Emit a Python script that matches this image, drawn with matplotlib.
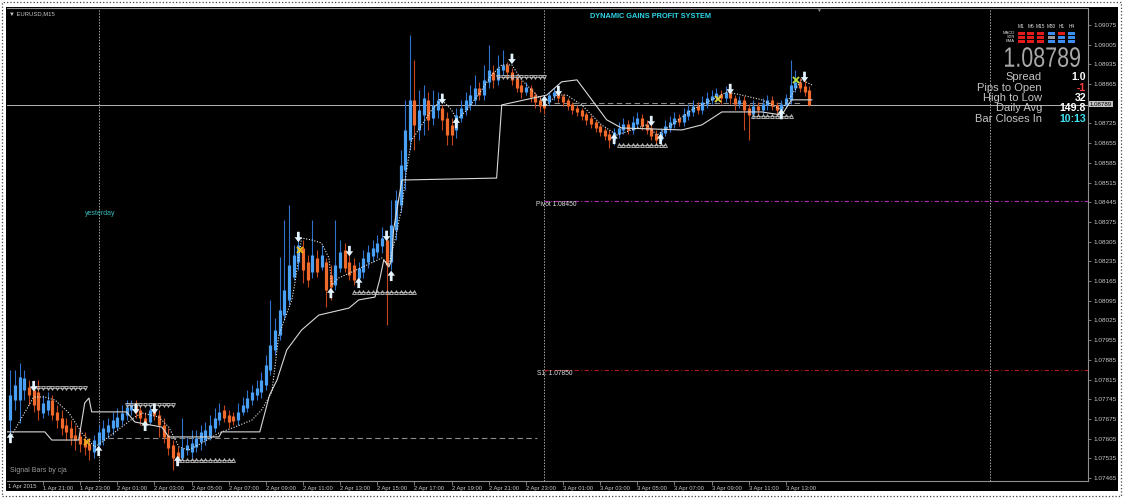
import numpy as np
import matplotlib
matplotlib.use("Agg")
import matplotlib.pyplot as plt
from matplotlib.patches import Rectangle, PathPatch
from matplotlib.textpath import TextPath
from matplotlib.font_manager import FontProperties
from matplotlib.transforms import Affine2D

plt.rcParams['font.family'] = ['Liberation Sans', 'DejaVu Sans']

# prices are kept in pips above BASE
BASE = 1.07

bar_open = [
    67.1, 74.2, 74.2, 77.8, 78.8, 77.8, 77.1, 69.6, 70.7, 74.2,
    70.0, 67.8, 65.4, 64.3, 61.8, 61.4, 60.0, 58.6, 55.8, 58.2,
    60.0, 62.9, 64.3, 64.6, 67.1, 68.9, 70.7, 72.5, 70.7, 67.8,
    66.4, 71.4, 68.9, 65.4, 61.8, 58.2, 55.8, 53.6, 56.5, 55.8,
    57.5, 59.3, 60.0, 61.4, 64.3, 67.1, 70.7, 68.9, 68.5, 67.1,
    70.0, 71.4, 74.2, 76.0, 77.1, 79.6, 84.9, 92.0, 97.3, 104.4,
    109.8, 117.9, 123.3, 128.3, 123.3, 119.7, 124.7, 121.5, 123.3, 118.7,
    115.1, 121.2, 127.6, 123.3, 122.2, 117.6, 119.7, 123.3, 125.4, 126.8,
    129.0, 131.1, 123.3, 134.7, 143.5, 156.0, 166.6, 180.9, 170.2, 175.5,
    180.9, 174.5, 177.3, 178.0, 174.5, 172.0, 170.2, 174.5, 177.3, 179.1,
    180.9, 185.1, 182.6, 187.3, 190.8, 188.0, 191.5, 193.3, 190.8, 188.7,
    186.2, 183.7, 185.1, 182.6, 180.9, 179.4, 180.1, 182.3, 183.7, 182.3,
    180.9, 179.4, 178.0, 177.3, 175.9, 174.5, 173.0, 171.6, 170.2, 168.8,
    166.6, 168.8, 170.2, 172.3, 170.2, 172.3, 174.5, 172.3, 170.9, 168.8,
    166.6, 169.1, 170.9, 172.3, 174.5, 173.0, 175.2, 176.6, 178.7, 177.3,
    179.4, 180.9, 181.9, 183.0, 181.6, 183.7, 181.6, 179.4, 180.9, 178.0,
    175.9, 178.7, 177.3, 179.1, 180.9, 179.1, 177.3, 179.1, 180.9, 185.1,
    187.3, 185.8, 184.4]
bar_close = [
    76.0, 79.6, 82.4, 82.0, 76.0, 72.5, 70.7, 73.2, 74.2, 68.9,
    67.1, 64.3, 62.9, 60.7, 60.0, 58.6, 57.5, 56.5, 60.0, 62.9,
    64.3, 65.4, 67.1, 68.2, 69.6, 71.8, 72.5, 70.0, 67.8, 65.4,
    70.7, 68.9, 65.4, 61.1, 57.2, 53.6, 53.6, 57.2, 58.2, 58.9,
    60.7, 62.9, 63.6, 65.4, 67.8, 70.0, 67.8, 66.4, 66.8, 70.0,
    72.5, 74.9, 77.1, 78.5, 81.3, 86.7, 93.8, 99.1, 106.2, 113.3,
    122.2, 125.8, 129.3, 120.4, 116.9, 125.8, 119.7, 125.8, 113.3, 114.4,
    122.2, 126.8, 121.2, 118.7, 116.9, 121.2, 124.7, 126.8, 128.3, 130.0,
    131.8, 122.2, 136.4, 145.3, 157.8, 170.2, 180.9, 172.0, 177.3, 181.6,
    173.8, 179.1, 180.9, 173.8, 168.4, 168.4, 175.5, 178.0, 180.9, 182.6,
    185.1, 182.6, 188.0, 191.5, 188.0, 192.2, 193.3, 190.8, 188.0, 185.1,
    183.7, 185.5, 181.9, 180.1, 178.7, 178.0, 182.6, 183.7, 181.6, 180.1,
    178.7, 177.3, 176.6, 175.2, 173.8, 172.3, 170.9, 169.5, 168.1, 166.6,
    169.5, 170.9, 172.3, 170.2, 173.0, 174.5, 171.6, 170.2, 168.1, 166.6,
    169.5, 171.6, 173.0, 174.5, 173.0, 175.9, 177.3, 178.7, 177.3, 180.1,
    181.6, 182.3, 183.3, 181.6, 183.7, 181.6, 179.4, 180.9, 177.3, 175.5,
    178.7, 177.3, 179.4, 180.9, 178.7, 177.3, 179.4, 181.6, 186.2, 187.3,
    185.1, 183.7, 178.9]
bar_high = [
    84.9, 84.9, 87.4, 84.9, 81.3, 79.6, 81.3, 76.0, 77.1, 76.0,
    72.5, 70.7, 67.8, 67.1, 65.4, 64.3, 62.9, 60.7, 61.8, 65.4,
    67.1, 67.8, 70.0, 71.4, 72.5, 74.2, 74.2, 74.2, 72.1, 70.0,
    72.5, 72.5, 70.7, 67.8, 64.3, 60.0, 57.5, 67.8, 61.1, 63.6,
    63.6, 65.4, 66.4, 68.9, 71.4, 73.2, 72.5, 70.7, 70.0, 73.2,
    75.3, 77.8, 79.6, 81.3, 84.2, 90.2, 109.8, 103.4, 125.1, 138.2,
    143.5, 129.3, 131.8, 131.1, 125.8, 138.2, 127.6, 129.3, 124.7, 122.2,
    138.2, 131.1, 130.0, 125.8, 124.7, 123.3, 127.6, 129.3, 131.1, 132.9,
    135.7, 132.9, 145.3, 148.9, 163.1, 180.9, 204.0, 195.1, 184.4, 186.2,
    183.7, 184.4, 183.7, 179.1, 176.6, 174.5, 178.0, 180.9, 183.7, 186.2,
    189.7, 187.3, 193.3, 200.4, 193.3, 196.9, 198.6, 194.4, 192.2, 189.7,
    188.0, 187.3, 186.2, 183.7, 182.3, 180.9, 183.7, 185.1, 184.4, 183.0,
    181.6, 180.1, 179.1, 178.0, 176.6, 175.5, 173.8, 172.3, 170.9, 170.2,
    170.9, 173.0, 174.5, 173.8, 175.2, 176.6, 175.9, 173.8, 172.0, 170.2,
    170.9, 173.8, 175.2, 176.6, 175.9, 178.0, 179.4, 180.9, 180.1, 182.3,
    183.7, 184.4, 185.1, 184.4, 185.8, 185.1, 182.6, 182.3, 182.3, 179.4,
    180.9, 180.1, 181.6, 182.6, 182.3, 180.1, 180.9, 183.0, 195.1, 191.5,
    188.7, 188.0, 185.8]
bar_low = [
    60.0, 70.7, 66.1, 74.2, 72.5, 70.0, 67.1, 67.8, 68.9, 67.1,
    64.3, 61.8, 60.0, 58.2, 56.5, 55.8, 54.7, 52.9, 53.6, 56.5,
    58.2, 60.7, 61.8, 63.6, 65.4, 67.1, 68.9, 67.8, 65.4, 63.6,
    65.4, 67.1, 61.1, 58.9, 54.7, 49.4, 51.1, 52.9, 54.7, 53.6,
    55.8, 56.5, 58.2, 60.0, 62.9, 65.4, 66.4, 64.3, 65.4, 65.4,
    68.9, 70.0, 72.5, 74.2, 74.9, 77.8, 83.1, 90.2, 95.6, 102.7,
    108.0, 116.9, 120.4, 115.8, 114.4, 117.6, 117.9, 120.4, 107.3, 109.8,
    113.3, 119.7, 119.7, 116.9, 115.1, 116.2, 117.6, 121.2, 123.3, 124.7,
    126.5, 100.9, 120.4, 131.1, 141.1, 148.9, 163.1, 163.1, 166.6, 168.4,
    170.2, 172.0, 174.5, 170.2, 164.9, 164.9, 167.4, 173.0, 175.5, 177.3,
    179.1, 180.9, 180.9, 185.1, 185.1, 186.2, 189.7, 188.7, 186.2, 183.7,
    181.6, 182.6, 180.1, 178.0, 176.6, 175.9, 179.1, 180.9, 180.1, 178.7,
    177.3, 175.9, 175.2, 173.8, 172.0, 170.9, 169.5, 168.1, 166.6, 163.8,
    164.9, 167.4, 168.8, 168.8, 168.8, 170.9, 170.2, 168.8, 166.6, 164.9,
    165.2, 168.1, 169.5, 170.9, 171.6, 171.6, 173.8, 175.2, 175.9, 175.9,
    178.0, 179.4, 180.1, 179.4, 180.1, 179.4, 177.3, 178.0, 170.2, 166.6,
    174.5, 175.5, 175.9, 177.3, 177.3, 175.9, 175.9, 178.0, 179.4, 183.7,
    183.7, 182.3, 178.7]

# white dotted trailing line (bar index, pips)
dot_idx = [1.3, 6, 8.4, 10.6, 13.6, 16.4, 19.2, 20.7, 27.8, 29.3, 32.9, 35.1, 37.3,
           39.4, 42.2, 45.9, 49.3, 53, 55.1, 57.3, 58.8, 61.6, 62.2, 63.7, 65.9, 68,
           69.6, 70.2, 71.7, 74.5, 81, 82.5, 83.8, 85.3, 86.3, 87.4, 89.6, 91.7, 93.9,
           96, 97.1, 99.3, 102.5, 104.6, 106.8, 109, 111.1, 114.3, 116.5, 118.6, 120.8,
           124, 128.3, 131.6, 134.8, 138, 140.2, 143.4, 147.7, 152, 155.3, 158.5,
           162.8, 167.1, 169.2, 171.4, 173.6]
dot_pips = [61.8, 75.3, 75.3, 74.2, 69.6, 62.5, 57.5, 59.3, 68.2, 69.6, 68.2, 64.6, 57.5,
            56.5, 58.9, 62.5, 64.6, 67.1, 70.7, 77.1, 97.3, 109.8, 115.1, 131.8, 131.1,
            130.0, 124.7, 115.1, 117.6, 119.7, 124.7, 122.2, 131.1, 142.8, 156.0, 166.6,
            172.0, 177.3, 180.9, 177.3, 173.8, 177.3, 184.4, 189.7, 193.3, 193.3, 188.0,
            182.6, 179.1, 182.6, 182.6, 179.1, 172.0, 168.4, 170.2, 172.0, 168.4, 172.0,
            177.3, 180.9, 183.7, 182.6, 180.9, 177.3, 182.6, 188.0, 186.2]

# white solid line
sol_idx = [0.3, 8.4, 9.9, 15.7, 17, 17.9, 18.5, 26, 27.8, 33.6, 35.1, 45.9, 46.5, 54.7,
           56.8, 58.4, 60.5, 63.7, 67.4, 73.9, 76, 79.5, 80.5, 81.4, 82.5, 83.1, 83.5,
           85.3, 105.7, 106.8, 116.5, 119.7, 123, 126.2, 129.4, 132.6, 145.6, 149.9,
           154.2, 162.8, 167.1, 169.2, 173.6]
sol_pips = [62.9, 62.9, 60.0, 60.0, 73.2, 74.9, 70.0, 70.0, 66.4, 64.6, 61.1, 61.1, 62.9,
            62.9, 76.0, 81.3, 92.0, 99.1, 104.4, 106.9, 109.8, 110.8, 116.9, 124.0, 121.5,
            124.0, 134.7, 152.4, 153.1, 179.1, 182.6, 187.3, 188.0, 180.9, 173.8, 170.9,
            170.2, 172.0, 176.6, 176.6, 175.5, 180.9, 180.9]

# signal arrows (bar index, tip in pips)
down_idx = [6, 28, 32, 63, 74, 82, 94, 109, 119, 139, 156, 172]
down_pips = [77.3, 69.2, 69.2, 130.3, 125.3, 130.7, 179.4, 193.6, 182.2, 171.5, 182.9, 187.2]
up_idx = [1, 20, 30, 37, 70, 76, 83, 97, 116, 131, 141, 167]
up_pips = [62.6, 58.0, 66.9, 54.4, 114.1, 117.7, 120.2, 174.5, 182.4, 168.9, 168.9, 177.7]

# cross marks
cross_idx = [17.4, 63.3, 153.3, 170.1]
cross_pips = [59.3, 127.6, 181.2, 188.0]
cross_cols = ['#f0b020', '#f0c020', '#d8d040', '#b8e040']

# sawtooth levels: (first bar, last bar, pips, marker)
saw_levels = [(6, 17, 78.5, 'v'), (26, 36, 72.5, 'v'), (37, 49, 52.9, '^'),
              (75, 88, 112.6, '^'), (106, 116, 189.0, 'v'), (132, 142, 164.9, '^'),
              (161, 169, 175.2, '^')]

current_price = 1.08789
day_open = 1.08799
yday_level = 1.07607
pivot = 1.08450
s1 = 1.07850
day_breaks = [20, 116, 212]

price_ticks = [1.09075, 1.09005, 1.08935, 1.08865, 1.08725, 1.08655, 1.08585, 1.08515,
               1.08445, 1.08375, 1.08305, 1.08235, 1.08165, 1.08095, 1.08025, 1.07955,
               1.07885, 1.07815, 1.07745, 1.07675, 1.07605, 1.07535, 1.07465]
time_ticks = list(range(8, 169, 8))
time_labels = ['1 Apr 21:00', '1 Apr 23:00', '2 Apr 01:00', '2 Apr 03:00', '2 Apr 05:00',
               '2 Apr 07:00', '2 Apr 09:00', '2 Apr 11:00', '2 Apr 13:00', '2 Apr 15:00',
               '2 Apr 17:00', '2 Apr 19:00', '2 Apr 21:00', '2 Apr 23:00', '3 Apr 01:00',
               '3 Apr 03:00', '3 Apr 05:00', '3 Apr 07:00', '3 Apr 09:00', '3 Apr 11:00',
               '3 Apr 13:00']

tf_names = ['M1', 'M5', 'M15', 'M30', 'H1', 'H4']
tf_rows = ['MACD', 'STR', 'EMA']
tf_state = [['r', 'r', 'r', 'b', 'r', 'b'],
            ['r', 'r', 'r', 'g', 'b', 'b'],
            ['r', 'r', 'r', 'b', 'b', 'b']]
info_labels = ['Spread', 'Pips to Open', 'High to Low', 'Daily Avg', 'Bar Closes In']
info_values = ['1.0', '-1', '32', '149.8', '10:13']
info_colors = ['white', '#ff3b3b', 'white', 'white', '#3fe3f2']


def px(p):
    return BASE + np.asarray(p, dtype=float) / 10000.0


W, H = 1124, 499
fig = plt.figure(figsize=(W / 100, H / 100), dpi=100, facecolor='white')


def fx(x):
    return x / W


def fy(y):
    return 1 - y / H


fig.patches.append(Rectangle((fx(2), fy(496)), 1119 / W, 494 / H, transform=fig.transFigure,
                             fill=False, ls=':', lw=0.9, ec='#444444', zorder=-20))
fig.patches.append(Rectangle((fx(6), fy(491)), 1112 / W, 484 / H, transform=fig.transFigure,
                             fc='black', ec='none', zorder=-10))

ax = fig.add_axes([fx(7), fy(481), 1081 / W, 473 / H])
ax.set_facecolor('black')
ax.set_xlim(0.26, 233.05)
ax.set_ylim(1.074544, 1.091354)

for b in day_breaks:
    ax.axvline(b, color='#a8a8a8', ls=(0, (1.5, 1.5)), lw=0.7, zorder=1)

ax.axhline(current_price, color='#b4b4b4', lw=0.7, zorder=1)
ax.hlines(day_open, 118, 171.5, color='#8c8c8c', ls=(0, (5, 3)), lw=0.8, zorder=1)
ax.hlines(yday_level, 22, 114.5, color='#8c8c8c', ls=(0, (5, 3)), lw=0.8, zorder=1)
ax.hlines(pivot, 116, 233.05, color='#b02cb0', ls=(0, (4, 2, 1, 2)), lw=0.8, zorder=1)
ax.hlines(s1, 116, 233.05, color='#b01a1a', ls=(0, (4, 2, 1, 2)), lw=0.8, zorder=1)

# bars
idx = np.arange(1, len(bar_close) + 1)
o, c, h, l = px(bar_open), px(bar_close), px(bar_high), px(bar_low)
up = c >= o
dn = ~up
ax.vlines(idx[up], l[up], h[up], color='#2f72cc', lw=0.8, zorder=2)
ax.vlines(idx[up], o[up], c[up], color='#4aa0f4', lw=2.3, zorder=3)
ax.vlines(idx[dn], l[dn], h[dn], color='#c4461c', lw=0.8, zorder=2)
ax.vlines(idx[dn], o[dn], c[dn], color='#f06a2c', lw=2.3, zorder=3)

ax.plot(sol_idx, px(sol_pips), color='#d8d8d8', lw=0.8, zorder=4)
ax.plot(dot_idx, px(dot_pips), color='#e8e8e8', lw=0.8, ls=(0, (1, 1.5)), zorder=4)

for i0, i1, p, m in saw_levels:
    xs = np.arange(i0, i1 + 1)
    ax.plot(xs, px([p] * len(xs)), color='#c8c8c8', lw=0.5, marker=m, ms=2.8,
            mfc='none', mec='#c8c8c8', mew=0.6, zorder=4)

arrow_kw = dict(arrowstyle='simple,head_length=0.4,head_width=0.6,tail_width=0.22',
                mutation_scale=9, fc='#e4f4ff', ec='none', shrinkA=0, shrinkB=0)
for i, p in zip(down_idx, down_pips):
    ax.annotate('', xy=(i, px(p)), xytext=(0, 7.5), textcoords='offset points',
                arrowprops=arrow_kw, zorder=5)
for i, p in zip(up_idx, up_pips):
    ax.annotate('', xy=(i, px(p)), xytext=(0, -7.5), textcoords='offset points',
                arrowprops=arrow_kw, zorder=5)

for i, p, col in zip(cross_idx, cross_pips, cross_cols):
    ax.plot(i, px(p), marker='x', color=col, ms=4, mew=1.3, zorder=5)

ax.text(114.2, pivot, 'Pivot 1.08450', color='#e0e0e0', fontsize=4.8, va='top', ha='left', zorder=6)
ax.text(114.4, s1, 'S1: 1.07850', color='#e0e0e0', fontsize=4.8, va='top', ha='left', zorder=6)
ax.text(17, 1.08405, 'yesterday', color='#38b8b8', fontsize=5, va='center', ha='left')

# axes and ticks
ax.spines['left'].set_visible(False)
for side in ['right', 'bottom', 'top']:
    ax.spines[side].set_color('#909090')
    ax.spines[side].set_linewidth(0.8)
ax.yaxis.tick_right()
ax.set_yticks(price_ticks)
ax.set_yticklabels(['%.5f' % t for t in price_ticks])
ax.tick_params(axis='y', colors='#8c8c8c', labelcolor='#c8c8c8', labelsize=4.6,
               length=2.5, width=0.6, pad=1.2)
ax.set_xticks(time_ticks)
ax.set_xticklabels(time_labels)
ax.tick_params(axis='x', colors='#8c8c8c', labelcolor='#c8c8c8', labelsize=4.2,
               length=3, width=0.6, pad=0.6)
for t in ax.get_xticklabels():
    t.set_ha('left')

fig.text(fx(8), fy(486.5), '1 Apr 2015', color='#c8c8c8', fontsize=4.2, va='center', ha='left')
fig.text(fx(1090), fy(104), '%.5f' % current_price, color='black', fontsize=4.4,
         va='center', ha='left',
         bbox=dict(boxstyle='square,pad=0.15', fc='#c4c4c4', ec='none'))

# header texts
fig.text(fx(9), fy(14), '\u25bc EURUSD,M15', color='#c8c8c8', fontsize=4.2, va='center', ha='left')
fig.text(fx(651), fy(17), 'DYNAMIC GAINS PROFIT SYSTEM', color='#2ed8ea', fontsize=5.3,
         fontweight='bold', va='center', ha='center')
fig.text(fx(818), fy(10), '\u25bc', color='#909090', fontsize=3.5, va='center', ha='center')
fig.text(fx(10), fy(471), 'Signal Bars by cja', color='#9a9a9a', fontsize=5, va='center', ha='left')

# info panel
col_x = [1021.5, 1030.5, 1040.5, 1051.5, 1061.5, 1071.5]
state_col = {'r': '#e01c1c', 'b': '#3a8ff0', 'g': '#9a9a9a'}
for x, name in zip(col_x, tf_names):
    fig.text(fx(x), fy(27), name, color='#e0e0e0', fontsize=3.4, va='center', ha='center')
for r, row in enumerate(tf_rows):
    yy = 32 + r * 4
    fig.text(fx(1015), fy(yy + 1.5), row, color='#e0e0e0', fontsize=3, va='center', ha='right')
    for x, s in zip(col_x, tf_state[r]):
        fig.patches.append(Rectangle((fx(x - 3.8), fy(yy + 3)), 7.6 / W, 3 / H,
                                     transform=fig.transFigure, fc=state_col[s], ec='none',
                                     zorder=5))

# big narrow price readout, squeezed horizontally like the terminal font
big = TextPath((0, 0), '%.5f' % current_price, size=28,
               prop=FontProperties(family='Liberation Sans'))
bb = big.get_extents()
sx = 75.0 / bb.width
big_tr = (Affine2D().translate(-bb.x0, -bb.y0).scale(sx / W, 1.0 / H)
          .translate(fx(1005), fy(67)) + fig.transFigure)
fig.patches.append(PathPatch(big, transform=big_tr, fc='#a8a8a8', ec='none', zorder=5))

for k, (lab, val, col) in enumerate(zip(info_labels, info_values, info_colors)):
    yy = 77.5 + k * 10.3
    fig.text(fx(1042), fy(yy), lab, color='#c4c4c4', fontsize=8, va='center', ha='right')
    fig.text(fx(1086), fy(yy), val, color=col, fontsize=7.6, fontweight='bold',
             va='center', ha='right')

fig.savefig('out.png', dpi=100, facecolor='white')
